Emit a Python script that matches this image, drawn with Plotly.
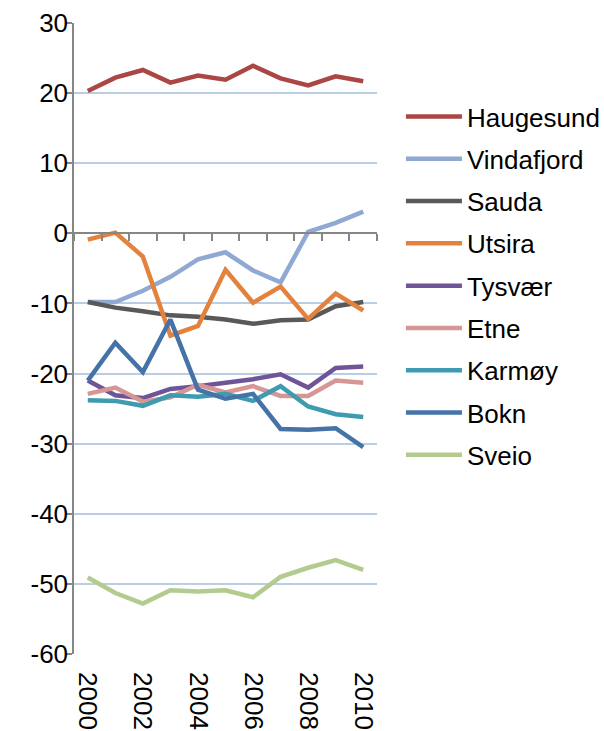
import plotly.graph_objects as go

years = list(range(2000, 2011))
tick_labels = ["2000", "2002", "2004", "2006", "2008", "2010"]
tick_years = [2000, 2002, 2004, 2006, 2008, 2010]
y_ticks = list(range(-60, 31, 10))
y_tick_labels = [str(v) for v in y_ticks]

haugesund = [20.3, 22.2, 23.3, 21.5, 22.5, 21.9, 23.9, 22.1, 21.1, 22.4, 21.7]
vindafjord = [-9.8, -9.8, -8.2, -6.2, -3.7, -2.7, -5.3, -7.0, 0.2, 1.5, 3.1]
sauda = [-9.8, -10.6, -11.1, -11.7, -11.9, -12.3, -12.9, -12.4, -12.3, -10.4, -9.8]
utsira = [-0.9, 0.1, -3.3, -14.6, -13.2, -5.2, -9.9, -7.6, -12.2, -8.6, -11.0]
tysvaer = [-21.0, -23.1, -23.5, -22.2, -21.8, -21.3, -20.8, -20.1, -22.0, -19.2, -19.0]
etne = [-22.9, -22.0, -24.0, -23.4, -21.6, -22.7, -21.8, -23.2, -23.2, -21.0, -21.3]
karmoy = [-23.8, -23.9, -24.6, -23.1, -23.3, -22.9, -23.9, -21.8, -24.7, -25.8, -26.2]
bokn = [-21.0, -15.6, -19.8, -12.3, -22.3, -23.6, -22.9, -27.9, -28.0, -27.8, -30.5]
sveio = [-49.1, -51.3, -52.8, -50.9, -51.1, -50.9, -51.9, -49.0, -47.7, -46.6, -48.0]

series = [
    ("Haugesund", haugesund, "#AA4643"),
    ("Vindafjord", vindafjord, "#8FA9D2"),
    ("Sauda", sauda, "#595959"),
    ("Utsira", utsira, "#E3823C"),
    ("Tysvær", tysvaer, "#6F5597"),
    ("Etne", etne, "#D69694"),
    ("Karmøy", karmoy, "#3E9BB0"),
    ("Bokn", bokn, "#4572A7"),
    ("Sveio", sveio, "#B3CB8E"),
]

fig = go.Figure()
for i, (name, vals, color) in enumerate(series):
    fig.add_trace(go.Scatter(
        x=years, y=vals, name=name, mode="lines",
        line=dict(color=color, width=4.5),
        legendgroup=f"g{i}",
    ))

font = dict(family="Liberation Sans, Arial, sans-serif", size=26, color="#000000")

fig.update_layout(
    width=604, height=731,
    margin=dict(l=74, r=227, t=23, b=77, autoexpand=False),
    paper_bgcolor="white", plot_bgcolor="white",
    font=font,
    showlegend=True,
    legend=dict(
        x=1.079, xanchor="left", y=0.889, yanchor="top",
        font=font, itemwidth=56, tracegroupgap=5.5,
        traceorder="grouped", bgcolor="rgba(0,0,0,0)",
    ),
    xaxis=dict(
        range=[1999.5, 2010.5], automargin=False,
        tickmode="array", tickvals=tick_years, ticktext=tick_labels,
        tickangle=90, showgrid=False, showline=False, zeroline=False,
        ticks="", tickfont=font, ticklabelstandoff=17,
    ),
    xaxis2=dict(
        range=[1999.5, 2010.5], overlaying="x", anchor="free",
        position=60 / 90, side="bottom", automargin=False,
        tickmode="array", tickvals=[1999.5 + k for k in range(12)],
        ticks="outside", ticklen=7, tickwidth=1.5, tickcolor="#868686",
        showline=True, linecolor="#868686", linewidth=1.5,
        showticklabels=False, showgrid=False, zeroline=False,
    ),
    yaxis=dict(
        range=[-60, 30], automargin=False,
        tickmode="array", tickvals=y_ticks, ticktext=y_tick_labels,
        showgrid=True, gridcolor="#B9CDE5", gridwidth=1.5,
        showline=True, linecolor="#868686", linewidth=1.5,
        ticks="outside", ticklen=7, tickwidth=1.5, tickcolor="#868686",
        zeroline=False, tickfont=font, ticklabelstandoff=-8,
    ),
)
fig.add_trace(go.Scatter(x=[2000], y=[0], xaxis="x2", mode="markers",
                         marker=dict(opacity=0), showlegend=False, hoverinfo="skip"))

fig.write_html(
    "out.html",
    config={"displayModeBar": False},
    post_script="document.body.style.margin='0';document.body.style.overflow='hidden';",
)
